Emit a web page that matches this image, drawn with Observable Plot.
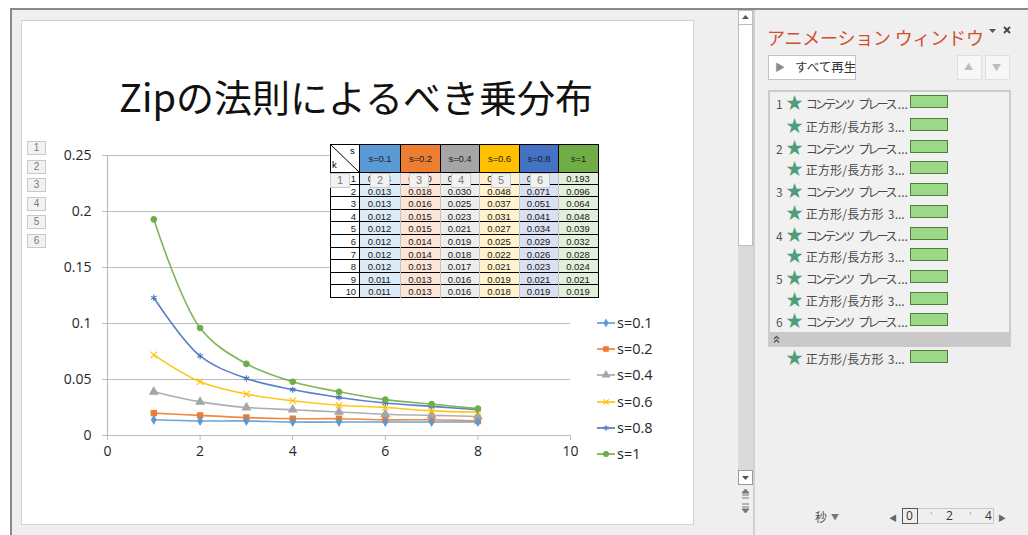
<!DOCTYPE html>
<html>
<head>
<meta charset="utf-8">
<script src="https://cdn.jsdelivr.net/npm/d3@7"></script>
<script src="https://cdn.jsdelivr.net/npm/@observablehq/plot@0.6"></script>
<style>
  html, body { margin: 0; padding: 0; width: 1028px; height: 535px; overflow: hidden; background: #fff;
    font-family: "Noto Sans CJK JP", "Noto Sans", sans-serif; }
  .a { position: absolute; box-sizing: border-box; }
  .tag { position: absolute; box-sizing: border-box; width: 19px; height: 14px; background: #f2f2f2;
    border: 1px solid #c9c9c9; color: #7a7a7a; font: 10px "Liberation Sans", sans-serif; text-align: center; line-height: 12px; }
  .cell { position: absolute; box-sizing: border-box; font: 9.5px "Liberation Sans", sans-serif; color: #1a1a1a;
    letter-spacing: -0.1px; text-align: center; }
  .leg { position: absolute; font: 14.5px "Open Sans", sans-serif; color: #262626; height: 20px; line-height: 20px; }
  .item { position: absolute; left: 776px; height: 20px; font-size: 12px; color: #4a4a4a; line-height: 20px; white-space: nowrap; }
  .star { color: #4f9d7c; font-size: 17px; letter-spacing: 0; }
  .bar { position: absolute; left: 910px; width: 38px; height: 13px; background: #9bd986; border: 1px solid #4f7f3e; box-sizing: border-box; }
</style>
</head>
<body>
<script>
// Rank k and probabilities P(k) for each exponent s (10 ranks tabulated, 8 plotted)
const ranks = [1, 2, 3, 4, 5, 6, 7, 8, 9, 10];
const plottedCount = 8;
const seriesNames = ["s=0.1", "s=0.2", "s=0.4", "s=0.6", "s=0.8", "s=1"];
const s01 = [0.014, 0.013, 0.013, 0.012, 0.012, 0.012, 0.012, 0.012, 0.011, 0.011];
const s02 = [0.020, 0.018, 0.016, 0.015, 0.015, 0.014, 0.014, 0.013, 0.013, 0.013];
const s04 = [0.039, 0.030, 0.025, 0.023, 0.021, 0.019, 0.018, 0.017, 0.016, 0.016];
const s06 = [0.072, 0.048, 0.037, 0.031, 0.027, 0.025, 0.022, 0.021, 0.019, 0.018];
const s08 = [0.123, 0.071, 0.051, 0.041, 0.034, 0.029, 0.026, 0.023, 0.021, 0.019];
const s10 = [0.193, 0.096, 0.064, 0.048, 0.039, 0.032, 0.028, 0.024, 0.021, 0.019];
const seriesValues = [s01, s02, s04, s06, s08, s10];

const xTicks = [0, 2, 4, 6, 8, 10];
const yTicks = [0, 0.05, 0.1, 0.15, 0.2, 0.25];

const seriesColors = ["#5B9BD5", "#ED7D31", "#A5A5A5", "#FFC000", "#4472C4", "#70AD47"];
const cellTints = ["#DDEBF7", "#FCE4D6", "#EDEDED", "#FFF2CC", "#D9E1F2", "#E2EFDA"];
const seriesSymbols = ["diamond", "square", "triangle", "times", "asterisk", "circle"];
const symbolRadius = [2.4, 3, 3, 3, 3, 2.8];

const titleText = "Zipの法則によるべき乗分布";

// Animation pane entries
const paneItems = [
  ["1", "コンテンツ プレース..."], ["", "正方形/長方形 3..."],
  ["2", "コンテンツ プレース..."], ["", "正方形/長方形 3..."],
  ["3", "コンテンツ プレース..."], ["", "正方形/長方形 3..."],
  ["4", "コンテンツ プレース..."], ["", "正方形/長方形 3..."],
  ["5", "コンテンツ プレース..."], ["", "正方形/長方形 3..."],
  ["6", "コンテンツ プレース..."]
];

function el(tag, cls, style, text) {
  const e = document.createElement(tag);
  if (cls) e.className = cls;
  if (style) e.setAttribute("style", style);
  if (text != null) e.textContent = text;
  document.body.appendChild(e);
  return e;
}

// ---- window chrome ----
el("div", "a", "left:10px;top:8px;width:1030px;height:540px;border:2px solid #8a8a8a;background:#efefef;");
// slide
el("div", "a", "left:21px;top:20px;width:673px;height:505px;background:#fff;border:1px solid #d2d2d2;");
// vertical scrollbar
el("div", "a", "left:738px;top:10px;width:15px;height:462px;background:#dadada;");
el("div", "a", "left:738px;top:10px;width:15px;height:15px;background:#fff;border:1px solid #bdbdbd;");
el("div", "a", "left:738px;top:24px;width:15px;height:222px;background:#fff;border:1px solid #bdbdbd;");
el("div", "a", "left:738px;top:470px;width:15px;height:15px;background:#fff;border:1px solid #9a9a9a;");
el("div", "a", "left:753px;top:10px;width:2px;height:530px;background:#d0d0d0;");
const sb = d3.select(document.body).append("svg").attr("class", "a")
  .attr("style", "left:736px;top:10px;overflow:visible").attr("width", 20).attr("height", 510);
sb.append("path").attr("d", "M6,9 L13,9 L9.5,5 Z").attr("fill", "#555");
sb.append("path").attr("d", "M6,466 L13,466 L9.5,470 Z").attr("fill", "#555");
// jump-to-top / jump-to-bottom glyphs
sb.append("path").attr("d", "M6,483 L13,483 L9.5,479 Z M6,485 h7 M6,488 h7").attr("fill", "#777").attr("stroke", "#777").attr("stroke-width", 1);
sb.append("path").attr("d", "M6,494 h7 M6,497 h7 M6,499 L13,499 L9.5,503 Z").attr("fill", "#777").attr("stroke", "#777").attr("stroke-width", 1);

// ---- slide title ----
el("div", "a", "left:21px;top:70px;width:670px;text-align:center;font-size:38px;line-height:52px;color:#111;font-family:'Noto Sans CJK JP',sans-serif;", titleText);

// ---- chart ----
const rows = seriesNames.flatMap((name, si) =>
  ranks.slice(0, plottedCount).map((k, i) => ({ k, p: seriesValues[si][i], series: name, r: symbolRadius[si] })));

const chart = Plot.plot({
  width: 530,
  height: 330,
  marginLeft: 57,
  marginRight: 10,
  marginTop: 15,
  marginBottom: 35,
  style: { fontFamily: "'Open Sans', sans-serif", fontSize: "14px", color: "#262626", background: "transparent", overflow: "visible" },
  x: { domain: [0, 10], label: null },
  y: { domain: [0, 0.25], label: null },
  r: { type: "identity" },
  color: { domain: seriesNames, range: seriesColors },
  symbol: { domain: seriesNames, range: seriesSymbols },
  marks: [
    Plot.gridY(yTicks, { stroke: "#bdbdbd", strokeOpacity: 1, strokeWidth: 1.2 }),
    Plot.ruleX([0], { stroke: "#bdbdbd", strokeWidth: 1.2 }),
    Plot.ruleY([0], { stroke: "#bdbdbd", strokeWidth: 1.2 }),
    Plot.axisY(yTicks, { tickSize: 5, tickPadding: 11, stroke: "#bdbdbd", fill: "#262626", tickFormat: d => String(d) }),
    Plot.axisX(xTicks, { tickSize: 5, tickPadding: 6, stroke: "#bdbdbd", fill: "#262626", tickFormat: d => String(d) }),
    Plot.line(rows, { x: "k", y: "p", stroke: "series", curve: "catmull-rom", strokeWidth: 1.6, strokeOpacity: 0.9 }),
    Plot.dot(rows, { x: "k", y: "p", symbol: "series", fill: "series", stroke: "series", r: "r", strokeWidth: 1.1 })
  ]
});
chart.setAttribute("class", "a");
chart.setAttribute("style", chart.getAttribute("style") + ";position:absolute;left:50px;top:140px;");
document.body.appendChild(chart);

// ---- legend ----
const symbolMap = { diamond: d3.symbolDiamond, square: d3.symbolSquare, triangle: d3.symbolTriangle,
  times: d3.symbolTimes, asterisk: d3.symbolAsterisk, circle: d3.symbolCircle };
seriesNames.forEach((name, i) => {
  const top = 313 + i * 26.2;
  const svg = d3.select(document.body).append("svg").attr("class", "a")
    .attr("style", `left:595px;top:${top}px`).attr("width", 22).attr("height", 20);
  svg.append("line").attr("x1", 2).attr("x2", 20).attr("y1", 10).attr("y2", 10)
    .attr("stroke", seriesColors[i]).attr("stroke-width", 1.6);
  const rr = symbolRadius[i] * 0.85;
  svg.append("path").attr("transform", "translate(11,10)")
    .attr("d", d3.symbol(symbolMap[seriesSymbols[i]], rr * rr * Math.PI)())
    .attr("fill", seriesColors[i]).attr("stroke", seriesColors[i]).attr("stroke-width", 1.1);
  el("div", "leg", `left:617px;top:${top}px;`, name);
});

// ---- data table ----
const colX = [330, 359, 400, 440, 479, 519, 558, 598];
const headTop = 144, headBottom = 172, rowH = 12.6;
const tableBottom = headBottom + ranks.length * rowH;
// body cells (fills and text)
ranks.forEach((k, r) => {
  const top = headBottom + r * rowH;
  el("div", "cell", `left:${colX[0]}px;top:${top}px;width:${colX[1] - colX[0]}px;height:${rowH}px;background:#fff;text-align:right;padding-right:3px;line-height:${rowH + 1}px;`, String(k));
  seriesValues.forEach((vals, i) => {
    el("div", "cell", `left:${colX[i + 1]}px;top:${top}px;width:${colX[i + 2] - colX[i + 1]}px;height:${rowH}px;background:${cellTints[i]};line-height:${rowH + 1}px;`, vals[r].toFixed(3));
  });
});
// grid lines of the table
const tg = d3.select(document.body).append("svg").attr("class", "a")
  .attr("style", "left:0;top:0;overflow:visible").attr("width", 1).attr("height", 1);
ranks.forEach((k, r) => {
  const y = Math.round(headBottom + (r + 1) * rowH) - 0.5;
  tg.append("line").attr("x1", colX[0]).attr("x2", colX[7]).attr("y1", y).attr("y2", y).attr("stroke", "#000");
});
colX.slice(2, 7).forEach(x => {
  tg.append("line").attr("x1", x + 0.5).attr("x2", x + 0.5).attr("y1", headBottom).attr("y2", tableBottom).attr("stroke", "#c4c4c4");
});
[colX[0], colX[1], colX[7]].forEach(x => {
  tg.append("line").attr("x1", x + 0.5).attr("x2", x + 0.5).attr("y1", headTop).attr("y2", tableBottom).attr("stroke", "#000");
});
// header row
seriesNames.forEach((name, i) => {
  el("div", "cell", `left:${colX[i + 1]}px;top:${headTop}px;width:${colX[i + 2] - colX[i + 1] + 1}px;height:${headBottom - headTop + 1}px;background:${seriesColors[i]};border:1px solid #000;line-height:${headBottom - headTop - 1}px;`, name);
});
el("div", "cell", `left:${colX[0]}px;top:${headTop}px;width:${colX[1] - colX[0] + 1}px;height:${headBottom - headTop + 1}px;background:#fff;border:1px solid #000;`);
const corner = d3.select(document.body).append("svg").attr("class", "a")
  .attr("style", `left:${colX[0]}px;top:${headTop}px`).attr("width", colX[1] - colX[0]).attr("height", headBottom - headTop);
corner.append("line").attr("x1", 0).attr("y1", 0).attr("x2", colX[1] - colX[0]).attr("y2", headBottom - headTop).attr("stroke", "#000");
el("div", "cell", `left:${colX[1] - 9}px;top:${headTop + 2}px;width:8px;height:10px;text-align:left;line-height:10px;color:#000;`, "s");
el("div", "cell", `left:${colX[0] + 2}px;top:${headBottom - 12}px;width:8px;height:10px;text-align:left;line-height:10px;color:#000;`, "k");

// ---- animation order tags ----
for (let i = 0; i < 6; i++) el("div", "tag", `left:27px;top:${141 + i * 18.6}px;`, String(i + 1));
[330, 370, 409, 451, 491, 530].forEach((x, i) => el("div", "tag", `left:${x}px;top:173px;width:20px;height:15px;font-size:11px;`, String(i + 1)));

// ---- animation pane ----
el("div", "a", "left:767px;top:25px;font-size:18px;color:#d0502c;line-height:24px;white-space:nowrap;letter-spacing:-0.2px;", "アニメーション ウィンドウ");
const hdr = d3.select(document.body).append("svg").attr("class", "a")
  .attr("style", "left:985px;top:24px").attr("width", 30).attr("height", 14);
hdr.append("path").attr("d", "M4,5 L11,5 L7.5,9 Z").attr("fill", "#555");
hdr.append("path").attr("d", "M19,3 L25,9 M25,3 L19,9").attr("stroke", "#444").attr("stroke-width", 1.8);
el("div", "a", "left:768px;top:55px;width:88px;height:25px;background:#fff;border:1px solid #c3c3c3;");
el("div", "a", "left:775px;top:60px;font-size:10px;color:#8a8a8a;line-height:14px;", "▶");
el("div", "a", "left:795px;top:56px;font-size:12.5px;color:#333;line-height:22px;", "すべて再生");
el("div", "a", "left:957px;top:55px;width:25px;height:25px;background:#f7f7f7;border:1px solid #e0e0e0;");
el("div", "a", "left:985px;top:55px;width:25px;height:25px;background:#f7f7f7;border:1px solid #e0e0e0;");
el("div", "a", "left:964px;top:60px;font-size:9px;color:#bdbdbd;line-height:14px;", "▲");
el("div", "a", "left:992px;top:61px;font-size:9px;color:#bdbdbd;line-height:14px;", "▼");
el("div", "a", "left:768px;top:90px;width:243px;height:257px;border:2px solid #cbcbcb;background:#f1f1f1;");
el("div", "a", "left:770px;top:332px;width:239px;height:14px;background:#c9c9c9;");
const chev = d3.select(document.body).append("svg").attr("class", "a")
  .attr("style", "left:771px;top:333px").attr("width", 12).attr("height", 12);
chev.append("path").attr("d", "M3,6 L5.5,3.5 L8,6 M3,9.5 L5.5,7 L8,9.5").attr("fill", "none").attr("stroke", "#555").attr("stroke-width", 1.3);
const itemY = [102, 124.5, 146.5, 168, 190, 211.5, 233.5, 255, 277, 298.5, 320];
function paneRow(top, n, label) {
  const it = el("div", "item", `top:${top}px;`);
  const katakana = label.startsWith("コ");
  const [first, rest] = label.split(" ");
  const restBody = rest.replace("...", "");
  const spacing = katakana ? "-2.7px" : "0.2px";
  it.innerHTML = `<span style="display:inline-block;width:10px;color:#555;">${n}</span><span class="star">★</span> ` +
    `<span style="letter-spacing:${spacing}">${first}</span><span style="display:inline-block;width:${katakana ? 6 : 4}px"></span>` +
    `<span style="letter-spacing:${spacing}">${restBody}</span><span style="display:inline-block;width:${katakana ? 3 : 0}px"></span>...`;
  el("div", "bar", `top:${top + 3}px;`);
}
paneItems.forEach(([n, label], i) => paneRow(itemY[i] - 10, n, label));
paneRow(347, "", "正方形/長方形 3...");
// timeline footer
el("div", "a", "left:815px;top:508px;font-size:12px;color:#555;line-height:18px;", "秒");
el("div", "a", "left:831px;top:511px;font-size:8px;color:#777;line-height:12px;", "▼");
el("div", "a", "left:889px;top:512px;font-size:8px;color:#666;line-height:12px;", "◀");
el("div", "a", "left:902px;top:508px;width:92px;height:16px;border:1px solid #c8c8c8;");
el("div", "a", "left:902px;top:508px;width:16px;height:16px;border:1.5px solid #555;");
el("div", "a", "left:906px;top:508px;font-size:12px;color:#333;line-height:16px;font-family:'Open Sans',sans-serif;", "0");
el("div", "a", "left:930px;top:508px;font-size:9px;color:#999;line-height:16px;", "'");
el("div", "a", "left:946px;top:508px;font-size:12px;color:#333;line-height:16px;font-family:'Open Sans',sans-serif;", "2");
el("div", "a", "left:969px;top:508px;font-size:9px;color:#999;line-height:16px;", "'");
el("div", "a", "left:985px;top:508px;font-size:12px;color:#333;line-height:16px;font-family:'Open Sans',sans-serif;", "4");
el("div", "a", "left:998px;top:512px;font-size:8px;color:#666;line-height:12px;", "▶");
</script>
</body>
</html>
